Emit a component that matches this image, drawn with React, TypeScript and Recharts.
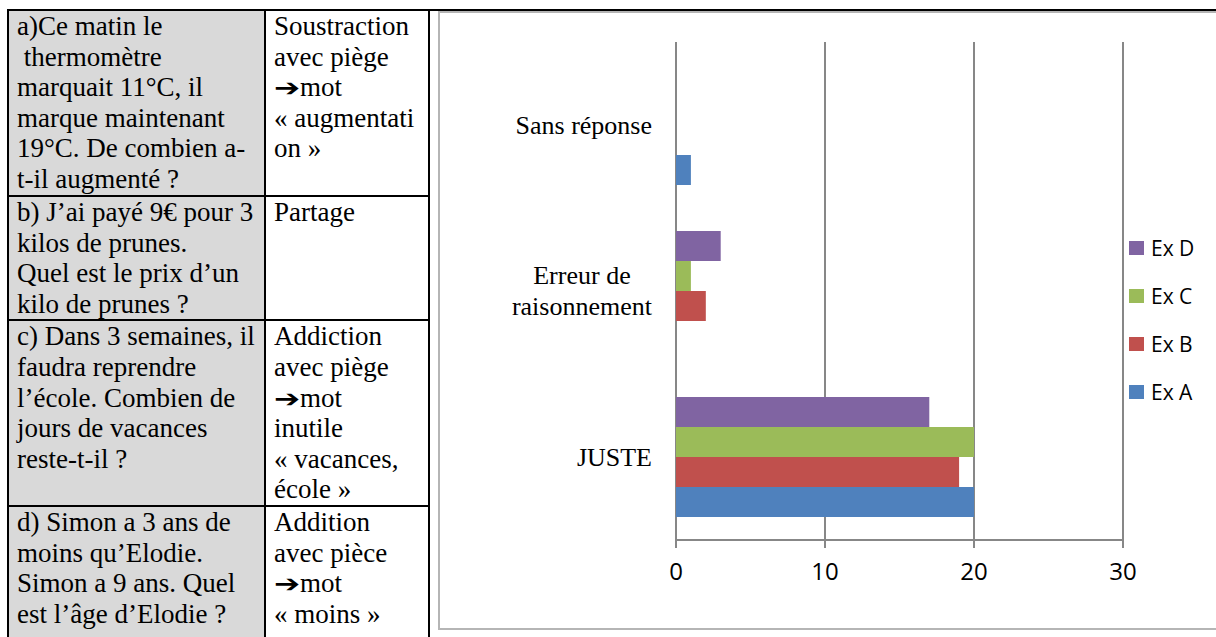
import React from "react";
import {
  BarChart,
  Bar,
  XAxis,
  YAxis,
  CartesianGrid,
  Legend,
} from "recharts";

// categories top to bottom, as in the chart
const CATEGORIES = ["Sans réponse", "Erreur de\nraisonnement", "JUSTE"];
const EX_A = [1, 0, 20];
const EX_B = [0, 2, 19];
const EX_C = [0, 1, 20];
const EX_D = [0, 3, 17];
const X_TICKS = [0, 10, 20, 30];
const EDGE_TICKS = [0, 1, 2, 3];

const SERIES = [
  { key: "exD", name: "Ex D", color: "#8064A2", values: EX_D },
  { key: "exC", name: "Ex C", color: "#9BBB59", values: EX_C },
  { key: "exB", name: "Ex B", color: "#C0504D", values: EX_B },
  { key: "exA", name: "Ex A", color: "#4F81BD", values: EX_A },
];

const data = CATEGORIES.map((name, i) => {
  const row: Record<string, string | number> = { name };
  SERIES.forEach((s) => (row[s.key] = s.values[i]));
  return row;
});

const SERIF = "'Liberation Serif', 'Times New Roman', 'DejaVu Serif', serif";
const SANS = "'Open Sans', 'Liberation Sans', sans-serif";
const GREY = "#878787";

let measureCtx: CanvasRenderingContext2D | null = null;
const textWidth = (s: string, font: string) => {
  if (!measureCtx) measureCtx = document.createElement("canvas").getContext("2d");
  if (!measureCtx) return s.length * 12;
  measureCtx.font = font;
  return measureCtx.measureText(s).width;
};

const CategoryTick = (props: any) => {
  const { x, y, payload } = props;
  const lines = String(payload.value).split("\n");
  const w = Math.max(...lines.map((l) => textWidth(l, `26px ${SERIF}`)));
  const cx = x - w / 2;
  const lh = 31;
  const y0 = y - ((lines.length - 1) * lh) / 2;
  return (
    <g>
      {lines.map((l, i) => (
        <text
          key={i}
          x={cx}
          y={y0 + i * lh}
          textAnchor="middle"
          dominantBaseline="central"
          fontFamily={SERIF}
          fontSize={26}
          fill="#000"
        >
          {l}
        </text>
      ))}
    </g>
  );
};

const ValueTick = (props: any) => {
  const { x, y, payload } = props;
  return (
    <text x={x} y={y} dy={30} textAnchor="middle" fontFamily={SANS} fontSize={24} fill="#000">
      {payload.value}
    </text>
  );
};

const NoTick = () => <g />;

const LegendBox = (props: any) => {
  const items = props.payload || [];
  // keep the legend in the order of SERIES (Ex D on top)
  const ordered = SERIES.map((s) => items.find((it: any) => it.value === s.name)).filter(Boolean);
  return (
    <div style={{ width: 80, paddingLeft: 6, boxSizing: "border-box" }}>
      {ordered.map((it: any) => (
        <div key={it.value} style={{ display: "flex", alignItems: "center", height: 48.3 }}>
          <span style={{ width: 15, height: 14, background: it.color, display: "inline-block", flex: "none" }} />
          <span style={{ marginLeft: 7, fontFamily: SANS, fontSize: 21, color: "#000", lineHeight: "22px", whiteSpace: "nowrap" }}>
            {it.value}
          </span>
        </div>
      ))}
    </div>
  );
};

const cell: React.CSSProperties = {
  border: "2px solid #000",
  padding: "0 0 0 8px",
  verticalAlign: "top",
  whiteSpace: "nowrap",
  overflow: "hidden",
};

const ROWS = [
  {
    h: 186,
    q: ["a)Ce matin le", "\u00a0thermomètre", "marquait 11°C, il", "marque maintenant", "19°C. De combien a-", "t-il augmenté ?"],
    t: ["Soustraction", "avec piège", "➔mot", "« augmentati", "on »"],
  },
  {
    h: 124,
    q: ["b) J’ai payé 9€ pour 3", "kilos de prunes.", "Quel est le prix d’un", "kilo de prunes ?"],
    t: ["Partage"],
  },
  {
    h: 185,
    q: ["c) Dans 3 semaines, il", "faudra reprendre", "l’école. Combien de", "jours de vacances", "reste-t-il ?"],
    t: ["Addiction", "avec piège", "➔mot", "inutile", "« vacances,", "école »"],
  },
  {
    h: 140,
    q: ["d) Simon a 3 ans de", "moins qu’Elodie.", "Simon a 9 ans. Quel", "est l’âge d’Elodie ?"],
    t: ["Addition", "avec pièce", "➔mot", "« moins »"],
  },
];

const Arrow = () => (
  <span
    style={{
      display: "inline-block",
      fontFamily: "'DejaVu Sans', sans-serif",
      fontSize: 24,
      lineHeight: "24px",
      transform: "scaleX(1.3)",
      transformOrigin: "left center",
      marginRight: 6,
    }}
  >
    ➔
  </span>
);

const Lines = ({ lines }: { lines: string[] }) => (
  <>
    {lines.map((l, i) => (
      <div key={i}>
        {l.startsWith("➔") ? (
          <>
            <Arrow />
            {l.slice(1)}
          </>
        ) : (
          l
        )}
      </div>
    ))}
  </>
);

export default function App() {
  return (
    <div style={{ position: "fixed", inset: 0, overflow: "hidden", background: "#fff" }}>
      <table
        style={{
          position: "absolute",
          left: 7,
          top: 9,
          borderCollapse: "collapse",
          tableLayout: "fixed",
          width: 421,
          fontFamily: SERIF,
          fontSize: 27,
          lineHeight: "30.6px",
          color: "#000",
        }}
      >
        <colgroup>
          <col style={{ width: 257 }} />
          <col style={{ width: 164 }} />
        </colgroup>
        <tbody>
          {ROWS.map((r, i) => (
            <tr key={i} style={{ height: r.h }}>
              <td style={{ ...cell, background: "#d9d9d9" }}>
                <Lines lines={r.q} />
              </td>
              <td style={cell}>
                <Lines lines={r.t} />
              </td>
            </tr>
          ))}
        </tbody>
      </table>
      <div style={{ position: "absolute", left: 420, top: 9, width: 820, height: 2, background: "#000" }} />
      <div
        style={{
          position: "absolute",
          left: 438,
          top: 11,
          width: 800,
          height: 619,
          border: "2px solid #b5b5b5",
          boxSizing: "border-box",
        }}
      />
      <div style={{ position: "absolute", left: 439, top: 11 }}>
        <BarChart
          width={777}
          height={618}
          data={data}
          layout="vertical"
          margin={{ top: 31, right: 13, bottom: 29, left: 0 }}
          barCategoryGap={23}
          barGap={0}
        >
          <CartesianGrid horizontal={false} stroke={GREY} strokeWidth={2} />
          <XAxis
            type="number"
            domain={[0, 30]}
            ticks={X_TICKS}
            interval={0}
            height={60}
            axisLine={{ stroke: GREY, strokeWidth: 2 }}
            tickLine={{ stroke: GREY, strokeWidth: 2 }}
            tickSize={8}
            tickMargin={2}
            tick={<ValueTick />}
          />
          <YAxis
            type="category"
            dataKey="name"
            width={237}
            axisLine={false}
            tickLine={false}
            tickSize={0}
            tickMargin={24}
            interval={0}
            tick={<CategoryTick />}
          />
          <YAxis
            yAxisId="edges"
            type="number"
            domain={[0, 3]}
            ticks={EDGE_TICKS}
            interval={0}
            width={0}
            axisLine={{ stroke: GREY, strokeWidth: 2 }}
            tickLine={{ stroke: GREY, strokeWidth: 2 }}
            tickSize={8}
            tick={<NoTick />}
          />
          <Legend
            layout="vertical"
            align="right"
            verticalAlign="middle"
            content={<LegendBox />}
            wrapperStyle={{ width: 80 }}
          />
          {SERIES.map((s) => (
            <Bar key={s.key} dataKey={s.key} name={s.name} fill={s.color} isAnimationActive={false} />
          ))}
        </BarChart>
      </div>
    </div>
  );
}
